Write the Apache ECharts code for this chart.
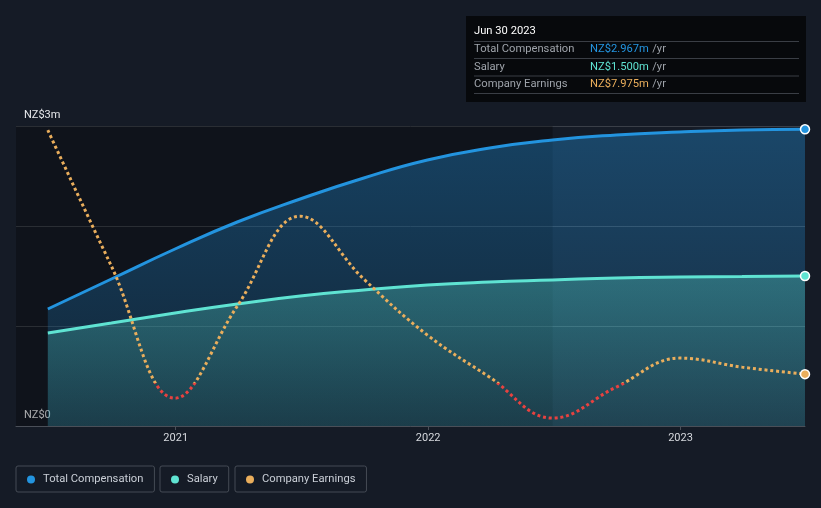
<!DOCTYPE html>
<html>
<head>
<meta charset="utf-8">
<script src="https://cdn.jsdelivr.net/npm/echarts@6/dist/echarts.min.js"></script>
<style>
html,body{margin:0;padding:0;background:#151b26;}
#c{width:821px;height:508px;}
</style>
</head>
<body>
<div id="c"></div>
<script>
// ---- data ----
const compDates = ['2020-06-30','2020-09-30','2020-12-31','2021-03-31','2021-06-30','2021-09-30','2021-12-31','2022-03-31','2022-06-30','2022-09-30','2022-12-31','2023-03-31','2023-06-30'];
const totalComp = [1.17,1.47,1.77,2.04,2.27,2.48,2.66,2.78,2.86,2.91,2.94,2.96,2.967];
const salary    = [0.93,1.03,1.13,1.22,1.30,1.36,1.41,1.44,1.46,1.48,1.49,1.495,1.50];
const earnings  = [224.3,103.7,-13.3,68.3,148.0,92.2,42.6,5.3,-31.0,-3.5,22.2,14.2,7.975];
const xTickLabels = ['2021-01-01','2022-01-01','2023-01-01'];
const yTickLabels = {0:'NZ$0', 3:'NZ$3m'};
const tooltipDate = 'Jun 30 2023';
const tooltipRows = [
  ['Total Compensation','NZ$2.967m','#2394df'],
  ['Salary','NZ$1.500m','#5fe3d2'],
  ['Company Earnings','NZ$7.975m','#eaae5c']
];

const ts = (s) => new Date(s + 'T00:00:00Z').getTime();
const toPairs = (arr) => arr.map((v,i)=>[ts(compDates[i]), v]);
const N = compDates.length;
const lastOnly = (v, p) => p.dataIndex === N-1 ? 9 : 0;
const FONT = 'Roboto';
const FS = 11.2;

const chart = echarts.init(document.getElementById('c'));

const graphics = [
  {type:'rect', shape:{x:466,y:16,width:340,height:86}, style:{fill:'#07090c'}, z:100}
];
graphics.push({type:'text', x:474, y:31, style:{text:tooltipDate, fill:'#ffffff', font:FS+'px '+FONT, verticalAlign:'middle'}, z:101});
[41.5, 58.5, 76, 93.5].forEach(y=>{
  graphics.push({type:'line', shape:{x1:474,y1:y,x2:799,y2:y}, style:{stroke:'#3a3e45', lineWidth:1}, z:101});
});
const rowY = [49.5, 67, 84.5];
tooltipRows.forEach((r,i)=>{
  graphics.push({type:'text', x:474, y:rowY[i], style:{text:r[0], fill:'#9ea3aa', font:FS+'px '+FONT, verticalAlign:'middle'}, z:101});
  graphics.push({type:'text', x:590, y:rowY[i], style:{
    text:'{v|'+r[1]+'} {u|/yr}', verticalAlign:'middle',
    rich:{v:{fill:r[2], font:FS+'px '+FONT}, u:{fill:'#9ea3aa', font:FS+'px '+FONT}}
  }, z:101});
});

const legendCommon = {
  top:466, orient:'horizontal', icon:'circle', itemWidth:8, itemHeight:8,
  padding:[8,11,7,11], borderColor:'#454b55', borderWidth:1, borderRadius:2,
  itemStyle:{borderWidth:0},
  textStyle:{color:'#c9ced6', fontSize:FS, fontFamily:FONT, padding:[0,0,0,3]},
  selectedMode:false
};

chart.setOption({
  backgroundColor:'#151b26',
  animation:false,
  textStyle:{fontFamily:FONT},
  grid:{left:16, right:16, top:126, bottom:82, containLabel:false},
  xAxis:{
    type:'value',
    min: ts('2020-05-15'), max: ts('2023-06-30'),
    axisLine:{show:true, lineStyle:{color:'#4a4f58', width:1}},
    axisTick:{show:true, length:4, lineStyle:{color:'#4a4f58'}, customValues: xTickLabels.map(ts)},
    axisLabel:{color:'#d6d9de', fontSize:11, margin:7, customValues: xTickLabels.map(ts),
      formatter:(v)=> String(new Date(v).getUTCFullYear())},
    splitLine:{show:false}
  },
  yAxis:[{
    type:'value', min:0, max:3, interval:1,
    axisLine:{show:false}, axisTick:{show:false},
    axisLabel:{inside:true, margin:8, color:'#e6e8eb', fontSize:11, verticalAlign:'bottom', padding:[0,0,5,0],
      formatter:(v)=> yTickLabels[v] !== undefined ? yTickLabels[v] : ''},
    splitLine:{show:true, lineStyle:{color:'#3a3f48', width:1}}
  },{
    type:'value', min:-38, max:228, show:false, splitLine:{show:false}
  }],
  legend:[
    Object.assign({}, legendCommon, {left:16, data:['Total Compensation']}),
    Object.assign({}, legendCommon, {left:160, data:['Salary']}),
    Object.assign({}, legendCommon, {left:235, data:['Company Earnings']})
  ],
  graphic: graphics,
  series:[
    {
      name:'tcArea', type:'line', smooth:true, symbol:'none', z:1,
      data: toPairs(totalComp), lineStyle:{width:0},
      areaStyle:{opacity:1, color:new echarts.graphic.LinearGradient(0,0,0,1,[
        {offset:0, color:'rgba(35,148,223,0.36)'},{offset:1, color:'rgba(35,148,223,0.14)'}])}
    },
    {
      name:'salArea', type:'line', smooth:true, symbol:'none', z:1,
      data: toPairs(salary), lineStyle:{width:0},
      areaStyle:{opacity:1, color:new echarts.graphic.LinearGradient(0,0,0,1,[
        {offset:0, color:'rgba(94,230,211,0.30)'},{offset:1, color:'rgba(94,230,211,0.12)'}])}
    },
    {
      name:'overlay', type:'line', symbol:'none', z:2, silent:true,
      data: toPairs(totalComp), lineStyle:{width:0, opacity:0},
      markArea:{silent:true, itemStyle:{color:'rgba(0,0,0,0.27)'},
        data:[[{xAxis: ts('2020-05-15')},{xAxis: ts('2022-06-30')}]]}
    },
    {
      name:'Total Compensation', type:'line', smooth:true, z:5, color:'#2394df',
      data: toPairs(totalComp), showSymbol:true, showAllSymbol:true, symbol:'circle', symbolSize:lastOnly,
      lineStyle:{width:3, color:'#2394df'},
      itemStyle:{color:'#2394df', borderColor:'#ffffff', borderWidth:1.5}
    },
    {
      name:'Salary', type:'line', smooth:true, z:5, color:'#5fe3d2',
      data: toPairs(salary), showSymbol:true, showAllSymbol:true, symbol:'circle', symbolSize:lastOnly,
      lineStyle:{width:3, color:'#5fe3d2'},
      itemStyle:{color:'#5fe3d2', borderColor:'#ffffff', borderWidth:1.5}
    },
    {
      name:'Company Earnings', type:'line', smooth:0.4, z:6, color:'#eaae5c', yAxisIndex:1,
      data: toPairs(earnings), showSymbol:true, showAllSymbol:true, symbol:'circle', symbolSize:lastOnly,
      lineStyle:{width:3, type:[3,2.8], color:'#eaae5c'},
      itemStyle:{color:'#eaae5c', borderColor:'#ffffff', borderWidth:1.5}
    }
  ]
});

// colour the earnings line red below zero (computed from the axis scale)
const yZero = chart.convertToPixel({yAxisIndex:1}, 0);
const yTop = chart.convertToPixel({yAxisIndex:0}, 3);
const yBot = chart.convertToPixel({yAxisIndex:0}, 0);
const off = Math.min(1, Math.max(0, (yZero - yTop) / (yBot - yTop)));
chart.setOption({
  series:[{}, {}, {}, {}, {}, {
    lineStyle:{color:new echarts.graphic.LinearGradient(0, yTop, 0, yBot, [
      {offset:0, color:'#eaae5c'},{offset:off, color:'#eaae5c'},
      {offset:off, color:'#e8413f'},{offset:1, color:'#e8413f'}], true)}
  }]
});
</script>
</body>
</html>
